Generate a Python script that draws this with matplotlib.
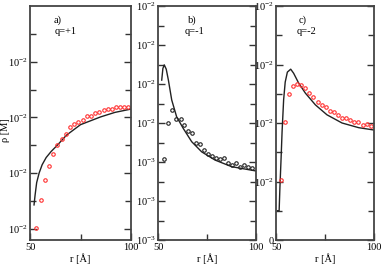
import matplotlib
matplotlib.use('Agg')
import matplotlib.pyplot as plt
from matplotlib.ticker import FixedLocator

plt.rcParams['font.family'] = 'Liberation Serif'
plt.rcParams['mathtext.fontset'] = 'custom'
plt.rcParams['mathtext.rm'] = 'Liberation Serif'
plt.rcParams['mathtext.it'] = 'Liberation Serif:italic'

# panel a) q=+1 (red points)
a_curve_r = [52.0, 52.5, 53.3, 54.5, 56.0, 58.0, 60.5, 63.5, 68.0, 75.0, 85.0, 92.0, 100.0]
a_curve_y = [1.43, 1.60, 1.83, 2.00, 2.15, 2.28, 2.39, 2.50, 2.68, 2.87, 3.01, 3.09, 3.15]
a_pts_r = [53.0, 55.3, 57.4, 59.6, 61.6, 63.5, 65.7, 67.6, 69.8, 71.8, 73.9,
           76.0, 78.1, 80.2, 82.3, 84.3, 86.5, 88.5, 90.6, 92.6, 94.6, 96.7, 98.7]
a_pts_y = [1.02, 1.52, 1.88, 2.13, 2.35, 2.50, 2.61, 2.70, 2.82, 2.88, 2.92,
           2.95, 3.03, 3.03, 3.08, 3.10, 3.13, 3.15, 3.16, 3.18, 3.19, 3.18, 3.18]
a_yticks = [1, 2, 3, 4]
a_ylabels = ['10$^{-2}$'] * 4

# panel b) q=-1 (black points)
b_curve_r = [51.9, 52.5, 53.2, 54.2, 55.3, 57.0, 59.5, 62.9, 67.2, 72.3, 79.1, 87.6, 100.0]
b_curve_y = [4.10, 4.40, 4.49, 4.38, 4.10, 3.59, 3.16, 2.86, 2.52, 2.26, 2.05, 1.88, 1.77]
b_pts_r = [53.1, 55.3, 57.3, 59.2, 61.6, 63.4, 65.5, 67.5, 69.5, 71.6, 73.6,
           75.7, 77.7, 79.7, 81.8, 83.8, 85.9, 87.9, 89.9, 92.0, 94.0, 96.1, 98.1]
b_pts_y = [2.08, 2.99, 3.33, 3.10, 3.09, 2.95, 2.79, 2.74, 2.50, 2.47, 2.32,
           2.21, 2.15, 2.09, 2.07, 2.09, 1.97, 1.92, 1.97, 1.88, 1.92, 1.88, 1.84]
b_yticks = [0, 1, 2, 3, 4, 5, 6]
b_ylabels = ['10$^{-3}$'] * 3 + ['10$^{-2}$'] * 4

# panel c) q=-2 (red points)
c_curve_r = [50.7, 51.6, 52.0, 52.6, 53.1, 53.9, 54.7, 55.8, 57.5, 59.0, 61.6,
             65.0, 70.1, 76.0, 83.7, 92.2, 100.0]
c_curve_y = [0.50, 0.50, 0.90, 1.40, 1.85, 2.40, 2.70, 2.87, 2.92, 2.85, 2.68,
             2.51, 2.31, 2.14, 2.00, 1.92, 1.88]
c_pts_r = [52.6, 54.4, 56.6, 58.8, 60.9, 62.9, 65.0, 67.0, 69.1, 71.3, 73.3,
           75.4, 77.6, 79.6, 81.6, 83.7, 85.7, 87.9, 89.9, 91.9, 94.2, 96.2, 98.3]
c_pts_y = [1.03, 2.02, 2.49, 2.63, 2.67, 2.65, 2.59, 2.52, 2.44, 2.36, 2.31,
           2.27, 2.20, 2.19, 2.14, 2.09, 2.08, 2.05, 2.02, 2.02, 1.97, 1.98, 1.95]
c_yticks = [0, 1, 2, 3, 4]
c_ylabels = ['0'] + ['10$^{-2}$'] * 4

fig = plt.figure(figsize=(3.82, 2.65), dpi=100)

W, H = 382., 265.
bot = 1 - 240 / H
hgt = 234 / H
panels = [
    (30, 101, a_curve_r, a_curve_y, a_pts_r, a_pts_y, '#ff3030',
     (0.8, 5), a_yticks, a_ylabels, [1.5, 2.5, 3.5, 4.5], 'a)', 'q=+1', (24, 25)),
    (158, 98, b_curve_r, b_curve_y, b_pts_r, b_pts_y, '#202020',
     (0, 6), b_yticks, b_ylabels, [0.5, 1.5, 2.5, 3.5, 4.5, 5.5], 'b)', 'q=-1', (30, 27)),
    (276, 98, c_curve_r, c_curve_y, c_pts_r, c_pts_y, '#ff3030',
     (0, 4), c_yticks, c_ylabels, [0.5, 1.5, 2.5, 3.5], 'c)', 'q=-2', (23, 21)),
]

fs = 7.5
for (x0, w, cr, cy, pr, py, pcol, ylim, yt, yl, ymin, lab, q, tpos) in panels:
    ax = fig.add_axes([x0 / W, bot, w / W, hgt])
    ax.plot(cr, cy, '-', color='#222222', lw=1.0)
    ax.plot(pr, py, 'o', mfc='none', mec=pcol, ms=2.5, mew=0.8, ls='none')
    ax.set_xlim(50, 100)
    ax.set_ylim(*ylim)
    ax.set_xticks([50, 100])
    ax.set_xticklabels(['50', '100'])
    ax.xaxis.set_minor_locator(FixedLocator([75]))
    ax.set_yticks(yt)
    ax.set_yticklabels(yl)
    ax.yaxis.set_minor_locator(FixedLocator(ymin))
    ax.tick_params(which='both', direction='in', left=True, right=True,
                   top=False, bottom=True, labelsize=fs, pad=2,
                   color='#333333')
    ax.tick_params(axis='y', pad=1.5)
    ax.tick_params(which='major', length=5, width=1)
    ax.tick_params(which='minor', length=4, width=1)
    for sp in ax.spines.values():
        sp.set_linewidth(1.3)
        sp.set_color('#444444')
    ax.set_xlabel('r [Å]', fontsize=fs, labelpad=1)
    ax.text(tpos[0] / w, 1 - 14 / 234, lab, transform=ax.transAxes,
            fontsize=fs, ha='left', va='center')
    ax.text(tpos[1] / w, 1 - 26 / 234, q, transform=ax.transAxes,
            fontsize=fs, ha='left', va='center')

fig.text(6 / W, 1 - 130 / H, 'ρ [M]', rotation=90, fontsize=fs,
         ha='center', va='center')

fig.savefig('out.png', dpi=100)
